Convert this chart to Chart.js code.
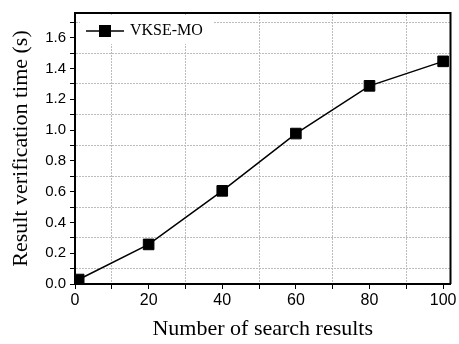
<!DOCTYPE html>
<html>
<head>
<meta charset="utf-8">
<script src="https://cdn.jsdelivr.net/npm/chart.js@4"></script>
<style>
  body { margin: 0; background: #fff; }
  #wrap { width: 459px; height: 344px; }
</style>
</head>
<body>
<div id="wrap"><canvas id="chart" width="459" height="344"></canvas></div>
<script>
const seriesName = 'VKSE-MO';
const searchResults = [1, 20, 40, 60, 80, 100];
const verifyTime = [0.029, 0.257, 0.605, 0.977, 1.287, 1.446];
const xTitle = 'Number of search results';
const yTitle = 'Result verification time (s)';

const isMinor = (v, step) => Math.round(v / step) % 2 === 1;

// frame on top/right plus the inset legend
const framePlugin = {
  id: 'frame',
  afterDatasetsDraw(chart) {
    const { ctx, chartArea: a } = chart;
    ctx.save();
    ctx.strokeStyle = '#000';
    ctx.lineWidth = 2;
    ctx.beginPath();
    ctx.moveTo(a.left, a.top);
    ctx.lineTo(a.right, a.top);
    ctx.lineTo(a.right, a.bottom);
    ctx.stroke();

    // legend
    const lx = a.left + 5, ly = a.top + 2;
    ctx.fillStyle = '#fff';
    ctx.fillRect(lx, ly, 133, 29);
    const cy = ly + 16;
    ctx.lineWidth = 1.5;
    ctx.beginPath();
    ctx.moveTo(lx + 6, cy);
    ctx.lineTo(lx + 44, cy);
    ctx.stroke();
    ctx.fillStyle = '#000';
    ctx.fillRect(lx + 19, cy - 6, 12, 12);
    ctx.font = '16px "Liberation Serif", "Times New Roman", serif';
    ctx.textBaseline = 'middle';
    ctx.fillText(chart.data.datasets[0].label, lx + 50, cy);
    ctx.restore();
  }
};

new Chart(document.getElementById('chart'), {
  type: 'line',
  data: {
    datasets: [{
      label: seriesName,
      data: searchResults.map((x, i) => ({ x, y: verifyTime[i] })),
      borderColor: '#000',
      borderWidth: 1.5,
      pointStyle: 'rect',
      pointRadius: 7.5,
      pointBackgroundColor: '#000',
      pointBorderColor: '#000',
      pointBorderWidth: 1,
      tension: 0
    }]
  },
  options: {
    responsive: false,
    animation: false,
    layout: { padding: { top: 6, right: 7, left: 0, bottom: 0 } },
    plugins: { legend: { display: false }, tooltip: { enabled: false } },
    scales: {
      x: {
        type: 'linear',
        min: 0,
        max: 102,
        afterFit: s => { s.height = 60; },
        ticks: {
          stepSize: 10,
          includeBounds: false,
          autoSkip: false,
          maxRotation: 0,
          padding: 2,
          color: '#000',
          font: { family: '"Liberation Sans", Arial, sans-serif', size: 16 },
          callback: v => (isMinor(v, 10) ? '' : String(v))
        },
        grid: {
          color: c => (c.tick && isMinor(c.tick.value, 10) ? '#bcbcbc' : 'rgba(0,0,0,0)'),
          tickColor: '#000',
          tickLength: 5,
          lineWidth: 1
        },
        border: { color: '#000', width: 2, dash: [2, 1] },
        title: {
          display: true,
          text: xTitle,
          color: '#000',
          font: { family: '"Liberation Serif", "Times New Roman", serif', size: 22 },
          padding: { top: 0, bottom: 2 }
        }
      },
      y: {
        min: 0,
        max: 1.76,
        afterFit: s => { s.width = 75; },
        ticks: {
          stepSize: 0.1,
          includeBounds: false,
          autoSkip: false,
          padding: 4,
          color: '#000',
          font: { family: '"Liberation Sans", Arial, sans-serif', size: 15 },
          callback: v => (isMinor(v, 0.1) ? '' : v.toFixed(1))
        },
        grid: {
          color: c => (c.tick && isMinor(c.tick.value, 0.1) ? '#bcbcbc' : 'rgba(0,0,0,0)'),
          tickColor: '#000',
          tickLength: 5,
          lineWidth: 1
        },
        border: { color: '#000', width: 2, dash: [2, 1] },
        title: {
          display: true,
          text: yTitle,
          color: '#000',
          font: { family: '"Liberation Serif", "Times New Roman", serif', size: 22 },
          padding: { top: 8, bottom: 0 }
        }
      }
    }
  },
  plugins: [framePlugin]
});
</script>
</body>
</html>
